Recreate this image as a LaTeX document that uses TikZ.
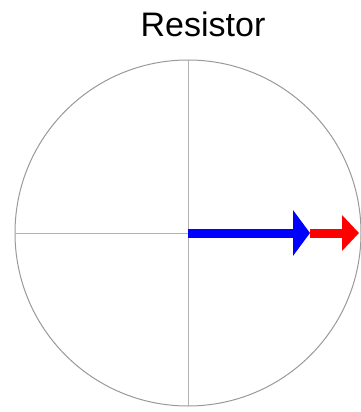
\documentclass[tikz,border=0pt]{standalone}
\usepackage{fontspec}
\setmainfont{Liberation Sans}
\usetikzlibrary{arrows.meta}
\begin{document}
\begin{tikzpicture}[x=1pt, y=-1pt]
  \useasboundingbox (0,0) rectangle (360,412);
  % title
  \node[anchor=base, font=\fontsize{34}{40}\selectfont] (title) at (203,37) {Resistor};
  % phasor circle
  \coordinate (o) at (188,233);
  \draw[gray!80, line width=1pt] (o) circle (173);
  % axes
  \coordinate (left) at (15,233);
  \coordinate (top) at (188,60);
  \coordinate (bottom) at (188,406);
  \draw[gray!60, line width=1pt] (left) -- (o);
  \draw[gray!60, line width=1pt] (top) -- (bottom);
  % phasors
  \coordinate (vb) at (310,233);
  \coordinate (vr) at (359,233);
  \draw[red, line width=9pt, -{Triangle[length=17pt, width=35pt]}] (vb) -- (vr);
  \draw[blue, line width=9pt, -{Triangle[length=17pt, width=45pt]}] (o) -- (vb);
\end{tikzpicture}
\end{document}
